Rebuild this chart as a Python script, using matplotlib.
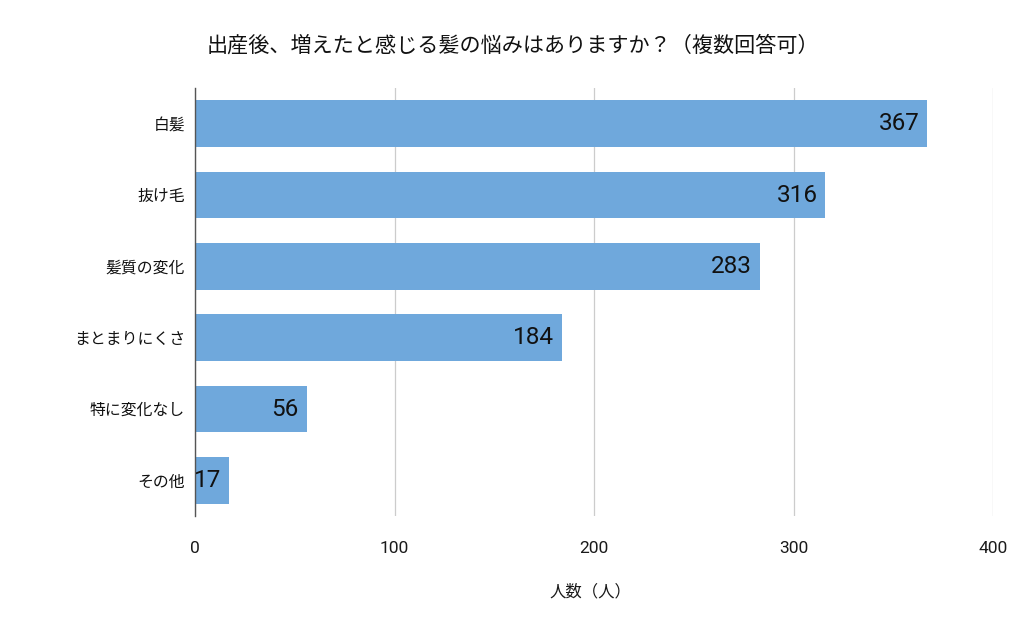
import matplotlib
matplotlib.use("Agg")
import matplotlib.pyplot as plt

categories = ["白髪", "抜け毛", "髪質の変化", "まとまりにくさ", "特に変化なし", "その他"]
values = [367, 316, 283, 184, 56, 17]
xticks = [0, 100, 200, 300, 400]
title = "出産後、増えたと感じる髪の悩みはありますか？（複数回答可）"
xlabel = "人数（人）"

plt.rcParams['font.family'] = ['Roboto', 'Noto Sans CJK JP', 'DejaVu Sans']

fig = plt.figure(figsize=(10.24, 6.34), dpi=100)
ax = fig.add_axes([195/1024, 1-516/634, (993-195)/1024, (516-88)/634])

y = list(range(len(categories)))
ax.barh(y, values, height=0.65, color="#6fa8dc", zorder=2)
ax.set_ylim(len(categories)-0.5, -0.5)
ax.set_xlim(0, 400)
ax.set_yticks(y)
ax.set_yticklabels(categories, fontsize=11.4, color="#111111")
ax.set_xticks(xticks)
ax.set_xticklabels([str(t) for t in xticks], fontsize=12.5, color="#1a1a1a")
ax.tick_params(axis='y', length=0, pad=7)
ax.tick_params(axis='x', length=0, pad=18)
ax.grid(axis='x', color="#cccccc", linewidth=0.9, zorder=0)
for s in ['top', 'right', 'bottom']:
    ax.spines[s].set_visible(False)
ax.spines['left'].set_color("#555555")
ax.spines['left'].set_linewidth(1.0)
ax.spines['left'].set_zorder(3)

for yi, v in zip(y, values):
    ax.text(v - 4, yi, str(v), ha='right', va='center', fontsize=17.5, color="#111111", zorder=4)

fig.text(513/1024, 1-45/634, title, ha='center', va='center', fontsize=15.2, color="#111111")
fig.text(590/1024, 1-592/634, xlabel, ha='center', va='center', fontsize=11.8, color="#1a1a1a")

fig.savefig("out.png", dpi=100)
